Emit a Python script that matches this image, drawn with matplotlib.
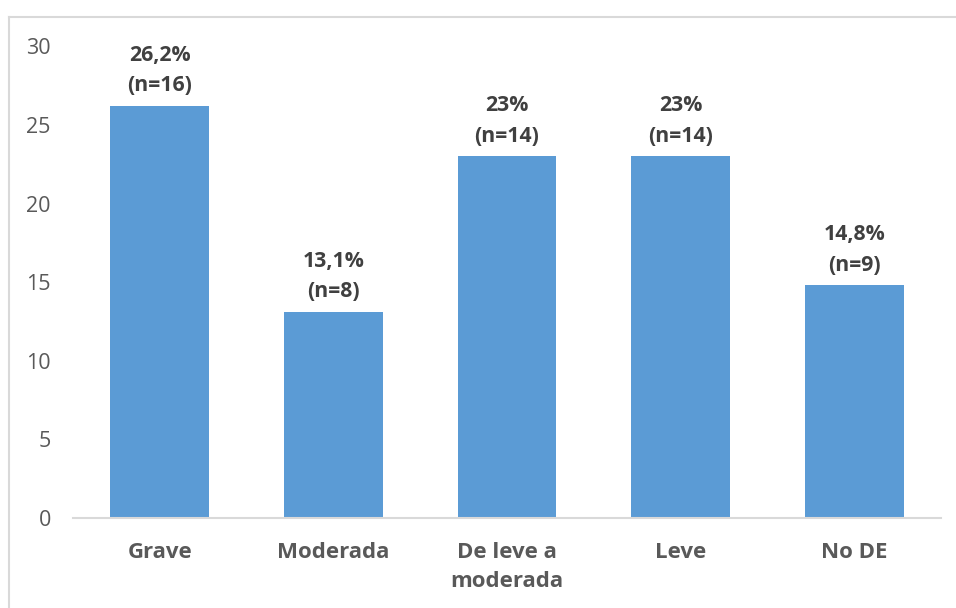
import matplotlib
matplotlib.use("Agg")
import matplotlib.pyplot as plt
from matplotlib.lines import Line2D

categories = ["Grave", "Moderada", "De leve a\nmoderada", "Leve", "No DE"]
values = [26.2, 13.1, 23, 23, 14.8]
labels = ["26,2%\n(n=16)", "13,1%\n(n=8)", "23%\n(n=14)", "23%\n(n=14)", "14,8%\n(n=9)"]
yticks = [0, 5, 10, 15, 20, 25, 30]

plt.rcParams['font.family'] = ['Open Sans', 'DejaVu Sans']

fig = plt.figure(figsize=(9.56, 6.08), dpi=100)
ax = fig.add_axes([73/956, 90/608, 868/956, (518-46.4)/608])

x = range(len(categories))
ax.bar(x, values, width=0.57, color="#5B9BD5", zorder=2)
ax.set_xlim(-0.5, 4.5)
ax.set_ylim(0, 30)
ax.set_yticks(yticks)
ax.set_yticklabels([str(t) for t in yticks], fontsize=15.5, color="#595959")
ax.set_xticks(list(x))
ax.set_xticklabels(categories, fontsize=16, fontweight="bold", color="#595959",
                   linespacing=1.55)
ax.tick_params(axis="both", length=0)
ax.tick_params(axis="y", pad=16)
ax.tick_params(axis="x", pad=17)
for s in ["top", "right", "left"]:
    ax.spines[s].set_visible(False)
ax.spines["bottom"].set_color("#D9D9D9")
ax.spines["bottom"].set_linewidth(1.5)

for xi, v, lab in zip(x, values, labels):
    ax.annotate(lab, (xi, v), xytext=(0, 7), textcoords="offset points",
                ha="center", va="bottom", fontsize=15.3, fontweight="bold",
                color="#404040", linespacing=1.6)

# chart border
fig.add_artist(Line2D([9/956, 1.0], [1-17/608, 1-17/608], transform=fig.transFigure,
                      color="#D9D9D9", linewidth=1.5))
fig.add_artist(Line2D([9/956, 9/956], [0, 1-17/608], transform=fig.transFigure,
                      color="#D9D9D9", linewidth=1.5))

fig.savefig("out.png", dpi=100)
